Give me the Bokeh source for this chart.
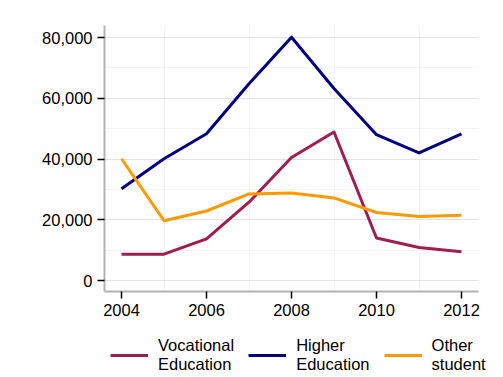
from bokeh.plotting import figure
from bokeh.layouts import column
from bokeh.models import FixedTicker, NumeralTickFormatter, Range1d, Legend, LegendItem
from bokeh.embed import file_html
from bokeh.resources import INLINE

years = [2004, 2005, 2006, 2007, 2008, 2009, 2010, 2011, 2012]
vocational = [8700, 8700, 13700, 25800, 40500, 48900, 14000, 10900, 9500]
higher = [30200, 40100, 48300, 64800, 80100, 63200, 48000, 42000, 48300]
other = [40100, 19700, 22900, 28500, 28800, 27200, 22400, 21100, 21500]
x_ticks = [2004, 2006, 2008, 2010, 2012]
y_ticks = [0, 20000, 40000, 60000, 80000]
y_minor = [10000, 30000, 50000, 70000]
x_minor = [2005, 2007, 2009, 2011]
labels = ["Vocational\nEducation", "Higher\nEducation", "Other\nstudent"]
colors = ["#A11D4F", "#000080", "#FF9900"]

FONT = "Liberation Sans"
FS = "16.5px"

p = figure(width=503, height=325, output_backend="svg", toolbar_location=None,
           x_range=Range1d(2003.6, 2012.4), y_range=Range1d(-3600, 83950),
           min_border_left=104, min_border_right=25, min_border_top=25, min_border_bottom=34)
p.outline_line_color = None
p.background_fill_color = "white"
p.frame_align = False

series = [vocational, higher, other]
for ys, c in zip(series, colors):
    p.line(years, ys, line_color=c, line_width=3, line_join="round")

for ax in (p.xaxis[0], p.yaxis[0]):
    ax.axis_line_color = "#b3b3b3"
    ax.axis_line_width = 2
    ax.major_tick_line_color = "black"
    ax.major_tick_line_width = 1.5
    ax.major_tick_out = 7
    ax.major_tick_in = 0
    ax.minor_tick_line_color = None
    ax.major_label_text_font = FONT
    ax.major_label_text_font_size = FS
    ax.major_label_text_color = "black"
    ax.major_label_standoff = 5

p.xaxis.ticker = FixedTicker(ticks=x_ticks)
p.yaxis.ticker = FixedTicker(ticks=y_ticks, minor_ticks=y_minor)
p.yaxis.formatter = NumeralTickFormatter(format="0,0")

p.xgrid.ticker = FixedTicker(ticks=x_minor)
p.xgrid.grid_line_color = "#f4f4f4"
p.xgrid.grid_line_width = 1
p.ygrid.grid_line_color = "#e3e3e3"
p.ygrid.grid_line_width = 1
p.ygrid.minor_grid_line_color = "#f4f4f4"
p.ygrid.minor_grid_line_width = 1

# legend panel: a small companion figure whose frame holds only the key
# (its copies of the series lie outside its view, so only the key shows)
q = figure(width=503, height=52, output_backend="svg", toolbar_location=None,
           x_range=Range1d(0, 1), y_range=Range1d(0, 1),
           x_axis_location=None, y_axis_location=None, min_border=0)
q.outline_line_color = None
q.grid.visible = False
q.frame_align = False
keys = [q.line(years, ys, line_color=c, line_width=3) for ys, c in zip(series, colors)]
items = [LegendItem(label=l, renderers=[r]) for l, r in zip(labels, keys)]
legend = Legend(items=items, orientation="horizontal", location=(110, 3),
                border_line_color=None, background_fill_alpha=0,
                padding=0, margin=0, spacing=14, glyph_width=38, glyph_height=20,
                label_standoff=10, label_text_font=FONT, label_text_font_size=FS,
                label_text_color="black", label_text_line_height=1.1)
q.add_layout(legend, "center")

open("out.html", "w").write(file_html(column(p, q), INLINE))
